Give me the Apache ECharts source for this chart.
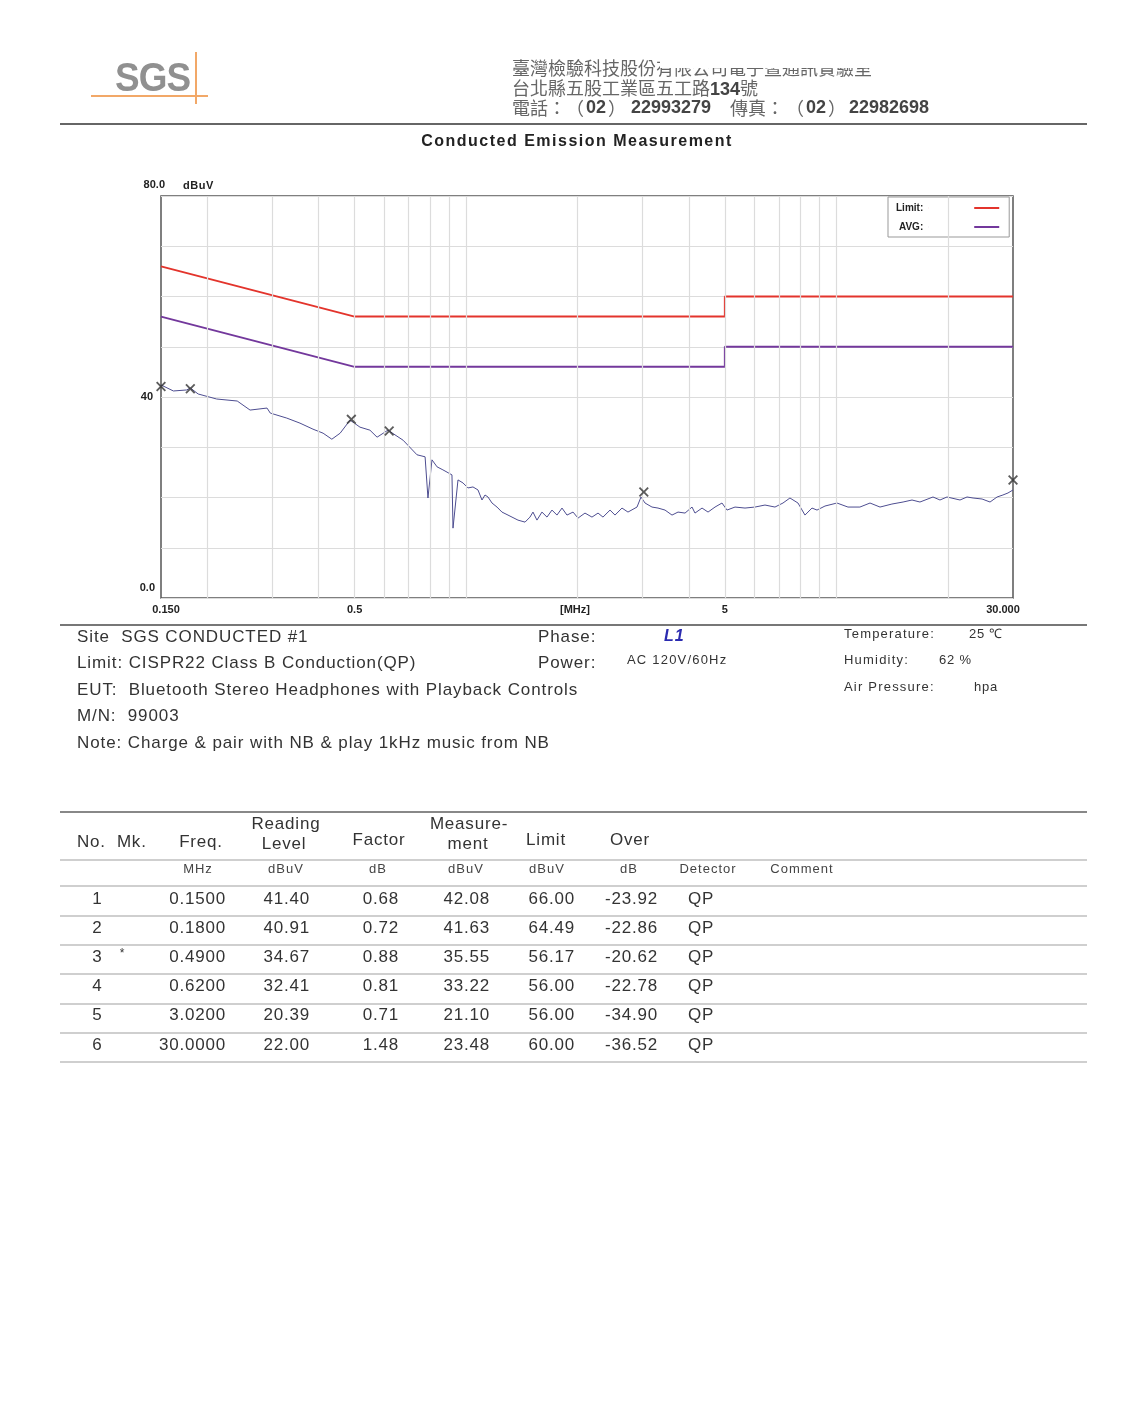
<!DOCTYPE html>
<html><head><meta charset="utf-8">
<script src="https://cdn.jsdelivr.net/npm/echarts@6/dist/echarts.min.js"></script>
<style>
html,body{margin:0;padding:0;background:#fff;}
#page{position:relative;width:1135px;height:1425px;overflow:hidden;font-family:"Liberation Sans",Arial,sans-serif;color:#333;background:#fff;}
#chart{position:absolute;left:0;top:0;width:1135px;height:1425px;}
#overlay{position:absolute;left:0;top:0;width:1135px;height:1425px;}
.t{position:absolute;white-space:nowrap;}
.r{position:absolute;}
.d{font-family:"Liberation Sans",Arial,sans-serif;font-weight:bold;color:#444;}
</style></head><body>
<div id="page"><div id="chart"></div><div id="overlay"></div></div>
<script>
// ---------- data ----------
const traceFreq = [0.150,0.162,0.176,0.180,0.189,0.212,0.241,0.261,0.290,0.296,0.328,0.356,0.386,0.411,0.434,0.457,0.486,0.517,0.550,0.575,0.615,0.676,0.737,0.775,0.789,0.809,0.835,0.866,0.916,0.922,0.951,
0.981,1.012,1.044,1.077,1.104,1.125,1.146,1.175,1.212,1.250,1.298,1.381,1.443,1.488,1.516,1.554,1.603,1.654,1.706,1.760,1.816,1.873,1.945,2.006,2.095,2.188,2.272,2.343,2.448,2.525,2.637,2.737,2.895,2.968,3.043,3.178,3.299,3.446,3.599,3.736,3.903,4.076,4.152,4.338,4.503,4.703,4.911,5.067,5.325,5.667,6.030,6.417,6.828,7.176,
7.494,7.878,8.229,8.595,8.867,9.319,10.04,10.75,11.58,12.33,13.12,14.13,15.14,16.01,16.82,18.24,19.05,19.90,21.58,22.54,23.40,24.75,26.01,27.17,28.18,29.08,30.0];
const traceLevel = [42.4,41.2,41.4,41.8,40.6,39.6,39.2,37.4,37.8,36.8,35.8,34.8,33.6,32.8,31.6,32.8,35.4,34.0,33.4,32.0,33.4,31.4,28.5,28.1,19.9,27.5,26.1,25.5,24.5,13.9,23.5,
22.9,21.9,22.1,21.5,19.5,20.5,20.1,18.9,18.1,17.1,16.5,15.5,15.1,16.1,17.1,15.5,17.1,16.1,17.5,16.5,17.9,16.5,17.1,15.9,16.9,16.1,16.9,16.1,17.5,16.5,17.9,17.1,18.1,20.1,18.9,18.1,17.9,17.5,16.5,17.1,16.9,18.1,16.9,17.9,17.1,18.1,18.9,17.5,18.1,17.9,18.1,18.5,18.1,18.9,
19.9,18.9,16.5,17.9,17.5,18.3,18.9,18.1,18.1,18.9,18.1,18.7,19.1,19.5,19.1,20.1,19.5,20.1,19.5,20.1,19.9,19.7,19.1,20.1,20.5,20.9,21.5];

const limitFreq = [0.15, 0.5, 5, 5, 30];
const limitQP   = [66, 56, 56, 60, 60];
const limitAVG  = [56, 46, 46, 50, 50];

const gridFreqs = [0.2,0.3,0.4,0.5,0.6,0.7,0.8,0.9,1,2,3,4,5,6,7,8,9,10,20];
const xTickValues = [0.15, 0.5, 5, 30];
const xTickLabels = ['0.150', '0.5', '5', '30.000'];
const yTickValues = [80, 40, 0];
const yTickLabels = ['80.0', '40', '0.0'];

const tblNo       = ['1','2','3','4','5','6'];
const tblMk       = ['','','*','','',''];
const tblFreq     = ['0.1500','0.1800','0.4900','0.6200','3.0200','30.0000'];
const tblReading  = ['41.40','40.91','34.67','32.41','20.39','22.00'];
const tblFactor   = ['0.68','0.72','0.88','0.81','0.71','1.48'];
const tblMeasure  = ['42.08','41.63','35.55','33.22','21.10','23.48'];
const tblLimit    = ['66.00','64.49','56.17','56.00','56.00','60.00'];
const tblOver     = ['-23.92','-22.86','-20.62','-22.78','-34.90','-36.52'];
const tblDetector = ['QP','QP','QP','QP','QP','QP'];

// ---------- overlay text ----------
const ov = document.getElementById('overlay');
function txt(x, y, s, o) {
  o = o || {};
  const size = o.size || 17, lh = Math.round(size * 1.25);
  const d = document.createElement('div');
  d.className = 't';
  const al = o.align || 'left';
  let css = 'top:' + (y - lh / 2) + 'px;line-height:' + lh + 'px;font-size:' + size + 'px;';
  if (al === 'left') css += 'left:' + x + 'px;';
  else if (al === 'center') css += 'left:' + (x - 300) + 'px;width:600px;text-align:center;';
  else css += 'left:' + (x - 600) + 'px;width:600px;text-align:right;';
  css += 'color:' + (o.color || '#333') + ';';
  if (o.weight) css += 'font-weight:' + o.weight + ';';
  if (o.italic) css += 'font-style:italic;';
  if (o.spacing) css += 'letter-spacing:' + o.spacing + 'px;';
  if (o.family) css += 'font-family:' + o.family + ';';
  if (o.extra) css += o.extra;
  d.style.cssText = css;
  d.innerHTML = s;
  ov.appendChild(d);
  return d;
}
function rect(x, y, w, h, c) {
  const d = document.createElement('div');
  d.className = 'r';
  d.style.cssText = 'left:' + x + 'px;top:' + y + 'px;width:' + w + 'px;height:' + h + 'px;background:' + c + ';';
  ov.appendChild(d);
}
const CJK = '"Noto Sans CJK TC","Noto Sans CJK SC",sans-serif';
const NARROW = '"Liberation Sans Narrow","Liberation Sans",sans-serif';

// logo
txt(115, 77, 'SGS', {size: 41, weight: 'bold', color: '#909090', spacing: -1, extra: 'transform:scaleX(0.9);transform-origin:0 50%;'});
rect(91, 95, 117, 2, '#f2a868');
rect(195, 52, 2, 52, '#f2a868');

// header
const HC = {size: 18, color: '#666', family: CJK};
const HD = {size: 18, color: '#444', weight: 'bold'};
txt(512, 67, '臺灣檢驗科技股份有限公司電子暨通訊實驗室', HC);
rect(660, 30, 410, 38, '#fff');
txt(512, 87, '台北縣五股工業區五工路<span class="d">134</span>號', HC);
txt(512, 107, '電話：', HC);
txt(566, 107, '（', HC);
txt(586, 107, '02', HD);
txt(608, 107, '）', HC);
txt(631, 107, '22993279', HD);
txt(730, 107, '傳真：', HC);
txt(786, 107, '（', HC);
txt(806, 107, '02', HD);
txt(828, 107, '）', HC);
txt(849, 107, '22982698', HD);
rect(60, 123, 1027, 2, '#666');
txt(577, 141, 'Conducted Emission Measurement', {size: 16, weight: 'bold', color: '#222', align: 'center', spacing: 1.5});

// chart small texts
txt(183, 185, 'dBuV', {size: 11, weight: 'bold', color: '#222', spacing: 0.5});
txt(575, 609, '[MHz]', {size: 11, weight: 'bold', color: '#222', align: 'center'});

// info block
const IS = 0.9;
rect(60, 624, 1027, 2, '#777');
txt(77, 636, 'Site&nbsp; SGS CONDUCTED #1', {size: 17, spacing: IS});
txt(77, 662, 'Limit: CISPR22 Class B Conduction(QP)', {size: 17, spacing: IS});
txt(77, 689, 'EUT: &nbsp;Bluetooth Stereo Headphones with Playback Controls', {size: 17, spacing: IS});
txt(77, 715, 'M/N: &nbsp;99003', {size: 17, spacing: IS});
txt(77, 742, 'Note: Charge &amp; pair with NB &amp; play 1kHz music from NB', {size: 17, spacing: IS});
txt(538, 636, 'Phase:', {size: 17, spacing: IS});
txt(664, 636, 'L1', {size: 16, weight: 'bold', italic: true, color: '#2b2bb0', spacing: 1});
txt(538, 662, 'Power:', {size: 17, spacing: IS});
txt(627, 660, 'AC 120V/60Hz', {size: 13, spacing: 1.2});
txt(844, 634, 'Temperature:', {size: 13, spacing: 1.2});
txt(969, 634, '25 ℃', {size: 13, spacing: 0.8});
txt(844, 660, 'Humidity:', {size: 13, spacing: 1.2});
txt(939, 660, '62 %', {size: 13, spacing: 0.8});
txt(844, 687, 'Air Pressure:', {size: 13, spacing: 1.2});
txt(974, 687, 'hpa', {size: 13, spacing: 0.8});

// table
const TS = 0.8;
rect(60, 811, 1027, 2, '#888');
txt(77, 841, 'No.&nbsp; Mk.', {size: 17, spacing: TS});
txt(201, 841, 'Freq.', {size: 17, align: 'center', spacing: TS});
txt(286, 823, 'Reading', {size: 17, align: 'center', spacing: TS});
txt(284, 843, 'Level', {size: 17, align: 'center', spacing: TS});
txt(379, 839, 'Factor', {size: 17, align: 'center', spacing: TS});
txt(469, 823, 'Measure-', {size: 17, align: 'center', spacing: TS});
txt(468, 843, 'ment', {size: 17, align: 'center', spacing: TS});
txt(546, 839, 'Limit', {size: 17, align: 'center', spacing: TS});
txt(630, 839, 'Over', {size: 17, align: 'center', spacing: TS});
rect(60, 859, 1027, 2, '#cfcfcf');
const unitLabels = ['MHz','dBuV','dB','dBuV','dBuV','dB','Detector','Comment'];
const unitX = [198, 286, 378, 466, 547, 629, 708, 802];
unitLabels.forEach((u, i) => txt(unitX[i], 869, u, {size: 13, align: 'center', color: '#444', spacing: 1}));
rect(60, 885, 1027, 2, '#cfcfcf');
const rowY0 = 898, rowStep = 29.2;
tblNo.forEach((n, i) => {
  const y = rowY0 + i * rowStep;
  const o = {size: 17, align: 'right', spacing: TS};
  txt(97, y, n, {size: 17, align: 'center'});
  if (tblMk[i]) txt(122, y - 3, tblMk[i], {size: 12, align: 'center'});
  txt(226, y, tblFreq[i], o);
  txt(310, y, tblReading[i], o);
  txt(399, y, tblFactor[i], o);
  txt(490, y, tblMeasure[i], o);
  txt(575, y, tblLimit[i], o);
  txt(658, y, tblOver[i], o);
  txt(688, y, tblDetector[i], {size: 17, spacing: TS});
  rect(60, Math.round(y + 17), 1027, 2, '#cfcfcf');
});

// ---------- chart ----------
const chart = echarts.init(document.getElementById('chart'), null, {renderer: 'canvas'});
function near(a, b) { return Math.abs(a - b) / b < 1e-6; }
const LF = {fontSize: 11, fontWeight: 'bold', color: '#222', fontFamily: NARROW};
const xRich = {
  l: Object.assign({}, LF, {padding: [0, 0, 0, 10]}),
  c: Object.assign({}, LF),
  r: Object.assign({}, LF, {padding: [0, 20, 0, 0]})
};
const yRich = {
  t: Object.assign({}, LF, {padding: [0, 0, 22, 0]}),
  m: Object.assign({}, LF, {padding: [0, 12, 0, 0]}),
  b: Object.assign({}, LF, {padding: [0, 10, 20, 0]})
};
const X_PATH = 'path://M0,1.3L1.3,0L5,3.7L8.7,0L10,1.3L6.3,5L10,8.7L8.7,10L5,6.3L1.3,10L0,8.7L3.7,5Z';
// legend icon: a short line sitting at the right end of a wide, otherwise empty icon box
const LEGEND_ICON = 'path://M0,0L0.05,0L0.05,2L0,2ZM46,0L71,0L71,2L46,2Z';

chart.setOption({
  animation: false,
  backgroundColor: 'transparent',
  grid: {left: 161, top: 196, width: 852, height: 402, show: true, borderColor: '#555', borderWidth: 1.5, backgroundColor: 'transparent'},
  xAxis: {
    type: 'log', logBase: 10, min: 0.15, max: 30,
    axisLine: {show: false}, axisTick: {show: false}, splitLine: {show: false},
    axisLabel: {
      customValues: xTickValues, margin: 6, rich: xRich,
      formatter: function (v) {
        const i = xTickValues.findIndex(t => near(v, t));
        if (i < 0) return '';
        const key = i === 0 ? 'l' : (i === xTickValues.length - 1 ? 'r' : 'c');
        return '{' + key + '|' + xTickLabels[i] + '}';
      }
    }
  },
  yAxis: {
    type: 'value', min: 0, max: 80, interval: 10,
    axisLine: {show: false}, axisTick: {show: false},
    splitLine: {lineStyle: {color: '#dcdcdc', width: 1}},
    axisLabel: {
      margin: -4, rich: yRich, showMinLabel: true, showMaxLabel: true,
      formatter: function (v) {
        const i = yTickValues.indexOf(v);
        if (i < 0) return '';
        const key = v === 80 ? 't' : (v === 0 ? 'b' : 'm');
        return '{' + key + '|' + yTickLabels[i] + '}';
      }
    }
  },
  legend: {
    data: ['Limit:', 'AVG:'], orient: 'vertical', left: 888, top: 197,
    icon: LEGEND_ICON, itemWidth: 71, itemHeight: 2, itemGap: 9, align: 'right',
    padding: [6, 10, 5, 8], borderColor: '#999', borderWidth: 1, backgroundColor: '#fff',
    selectedMode: false,
    textStyle: {fontSize: 10, fontWeight: 'bold', color: '#222', fontFamily: NARROW}
  },
  series: [
    {
      name: 'grid', type: 'line', data: [[0.15, 0]], showSymbol: false, silent: true,
      lineStyle: {opacity: 0}, z: 1,
      markLine: {
        silent: true, symbol: 'none', label: {show: false}, animation: false,
        lineStyle: {color: '#dcdcdc', type: 'solid', width: 1.2},
        emphasis: {disabled: true},
        data: gridFreqs.map(f => ({xAxis: f}))
      }
    },
    {
      name: 'Limit:', type: 'line', color: '#e3342c', showSymbol: false, symbol: 'none', z: 3,
      lineStyle: {color: '#e3342c', width: 2},
      data: limitFreq.map((f, i) => [f, limitQP[i]])
    },
    {
      name: 'AVG:', type: 'line', color: '#73389c', showSymbol: false, symbol: 'none', z: 3,
      lineStyle: {color: '#73389c', width: 2},
      data: limitFreq.map((f, i) => [f, limitAVG[i]])
    },
    {
      name: 'Trace', type: 'line', showSymbol: false, symbol: 'none', z: 4,
      lineStyle: {color: '#4d4d90', width: 1},
      data: traceFreq.map((f, i) => [f, traceLevel[i]])
    },
    {
      name: 'Markers', type: 'scatter', symbol: X_PATH, symbolSize: 10, z: 5,
      itemStyle: {color: '#333'},
      data: tblFreq.map((f, i) => [parseFloat(f), parseFloat(tblMeasure[i])])
    }
  ]
});
</script>
</body></html>
